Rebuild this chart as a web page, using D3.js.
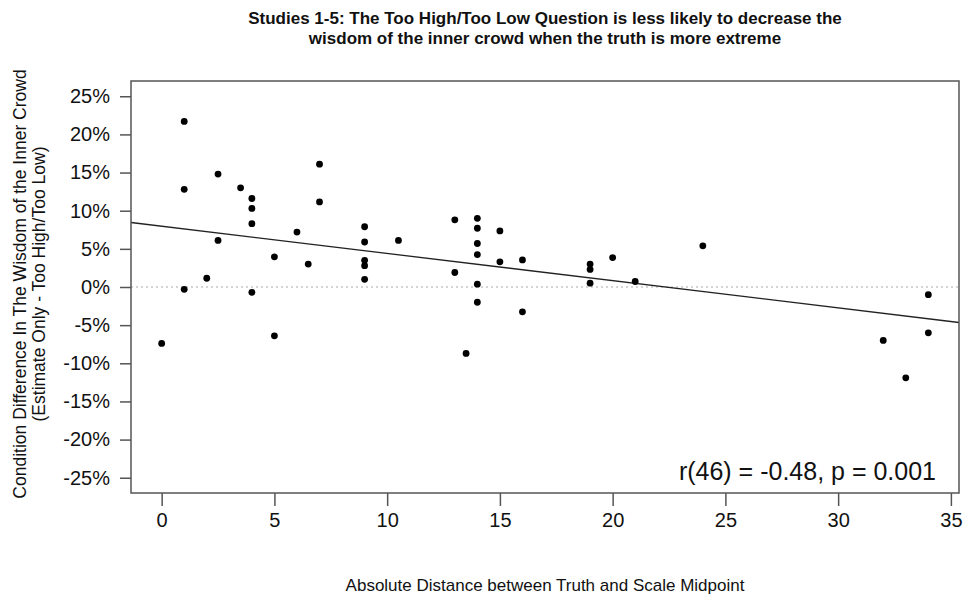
<!DOCTYPE html>
<html>
<head>
<meta charset="utf-8">
<script src="https://cdn.jsdelivr.net/npm/d3@7"></script>
<style>
  body { margin: 0; background: #fff; }
  svg text { font-family: "Liberation Sans", Arial, sans-serif; fill: #111; }
</style>
</head>
<body>
<div id="chart"></div>
<script>
// absolute distance between truth and scale midpoint
const distance = [0, 1, 1, 1, 2, 2.5, 2.5, 3.5, 4, 4, 4, 4, 5, 5, 6, 6.5, 7, 7,
  9, 9, 9, 9, 9, 10.5, 13, 13, 13.5, 14, 14, 14, 14, 14, 14, 15, 15, 16, 16,
  19, 19, 19, 20, 21, 24, 32, 33, 34, 34]
// condition difference (%), estimate only - too high/too low
const difference = [-7.4, 21.7, 12.8, -0.3, 1.15, 14.8, 6.1, 13.0, 11.6, 10.3, 8.3, -0.7, 3.95, -6.4, 7.2, 3.0, 16.1, 11.15,
  7.9, 5.9, 3.5, 2.8, 1.0, 6.1, 8.8, 1.9, -8.7, 9.0, 7.7, 5.7, 4.25, 0.37, -2.0, 7.35, 3.3, 3.55, -3.25,
  3.0, 2.3, 0.5, 3.86, 0.72, 5.4, -7.0, -11.9, -1.0, -6.0]

const xTicks = [0, 5, 10, 15, 20, 25, 30, 35]
const yTicks = [-25, -20, -15, -10, -5, 0, 5, 10, 15, 20, 25]

// fitted line
const fitIntercept = 7.97
const fitSlope = -0.357

const titleLines = [
  "Studies 1-5: The Too High/Too Low Question is less likely to decrease the",
  "wisdom of the inner crowd when the truth is more extreme"
]
const yTitleLines = [
  "Condition Difference In The Wisdom of the Inner Crowd",
  "(Estimate Only - Too High/Too Low)"
]
const xTitle = "Absolute Distance between Truth and Scale Midpoint"
const statText = "r(46) = -0.48, p = 0.001"

const width = 965, height = 594
const box = { left: 131, right: 959, top: 81, bottom: 493 }

const svg = d3.select("#chart").append("svg")
  .attr("width", width)
  .attr("height", height)

const x = d3.scaleLinear().domain([-1.36, 35.36]).range([box.left, box.right])
const y = d3.scaleLinear().domain([-27, 27]).range([box.bottom, box.top])

// zero reference line
svg.append("line")
  .attr("x1", box.left).attr("x2", box.right)
  .attr("y1", y(0)).attr("y2", y(0))
  .attr("stroke", "#aaa")
  .attr("stroke-width", 1.2)
  .attr("stroke-dasharray", "2,3")

// regression line clipped to the box
const xd = x.domain()
svg.append("line")
  .attr("x1", x(xd[0])).attr("y1", y(fitIntercept + fitSlope * xd[0]))
  .attr("x2", x(xd[1])).attr("y2", y(fitIntercept + fitSlope * xd[1]))
  .attr("stroke", "#222")
  .attr("stroke-width", 1.3)

svg.append("g")
  .selectAll("circle")
  .data(distance.map((d, i) => ({ x: d, y: difference[i] })))
  .enter().append("circle")
  .attr("cx", d => x(d.x))
  .attr("cy", d => y(d.y))
  .attr("r", 3.4)
  .attr("fill", "#000")

// frame
svg.append("rect")
  .attr("x", box.left).attr("y", box.top)
  .attr("width", box.right - box.left)
  .attr("height", box.bottom - box.top)
  .attr("fill", "none")
  .attr("stroke", "#555")
  .attr("stroke-width", 1.5)

const xAxis = svg.append("g")
  .attr("transform", `translate(0,${box.bottom})`)
  .call(d3.axisBottom(x).tickValues(xTicks).tickSize(13).tickPadding(7))
xAxis.select(".domain").remove()
xAxis.selectAll(".tick line").attr("stroke", "#555").attr("stroke-width", 1.5)
xAxis.selectAll(".tick text").style("font-size", "20px").attr("fill", "#111")

const yAxis = svg.append("g")
  .attr("transform", `translate(${box.left},0)`)
  .call(d3.axisLeft(y).tickValues(yTicks).tickSize(11).tickPadding(10)
    .tickFormat(d => d + "%"))
yAxis.select(".domain").remove()
yAxis.selectAll(".tick line").attr("stroke", "#555").attr("stroke-width", 1.5)
yAxis.selectAll(".tick text").style("font-size", "20px").attr("fill", "#111")

// titles
svg.append("g")
  .selectAll("text")
  .data(titleLines)
  .enter().append("text")
  .attr("x", (box.left + box.right) / 2)
  .attr("y", (d, i) => 24 + i * 20)
  .attr("text-anchor", "middle")
  .style("font-size", "17px")
  .style("font-weight", "bold")
  .text(d => d)

svg.append("g")
  .selectAll("text")
  .data(yTitleLines)
  .enter().append("text")
  .attr("transform", (d, i) => `translate(${26 + i * 19},${(box.top + box.bottom) / 2 - 3}) rotate(-90)`)
  .attr("text-anchor", "middle")
  .style("font-size", "17.5px")
  .text(d => d)

svg.append("text")
  .attr("x", (box.left + box.right) / 2)
  .attr("y", 591)
  .attr("text-anchor", "middle")
  .style("font-size", "17px")
  .text(xTitle)

svg.append("text")
  .attr("x", 936)
  .attr("y", 480)
  .attr("text-anchor", "end")
  .style("font-size", "25px")
  .text(statText)
</script>
</body>
</html>
